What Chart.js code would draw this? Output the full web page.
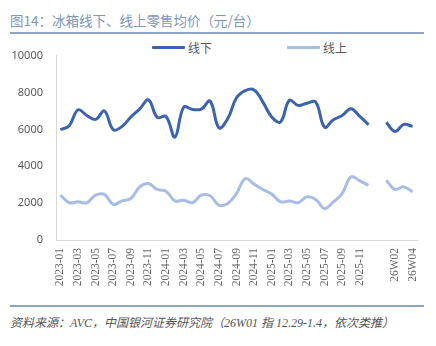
<!DOCTYPE html>
<html>
<head>
<meta charset="utf-8">
<script src="https://cdn.jsdelivr.net/npm/chart.js@4.4.1/dist/chart.umd.min.js"></script>
<style>
  html, body { margin: 0; padding: 0; background: #fff; }
  body { width: 436px; height: 346px; position: relative; overflow: hidden; font-family: "Noto Sans CJK SC", "Noto Sans", sans-serif; }
  #title { position: absolute; left: 10px; top: 10px; font-size: 13.5px; color: #8195bb; white-space: nowrap; }
  .rule { position: absolute; left: 10px; width: 414px; height: 2px; background: #8fa3c8; }
  #legend { position: absolute; top: 38px; left: 0; width: 436px; height: 18px; }
  .item { position: absolute; top: 0; display: flex; align-items: center; font-size: 12px; color: #595959; height: 18px; }
  .item i { display: inline-block; width: 33px; height: 3px; margin-right: 3px; border-radius: 1px; }
  #note { position: absolute; left: 10px; top: 313px; font-size: 12px; color: #555; font-style: italic; white-space: nowrap; font-family: "Liberation Serif", "Noto Sans CJK SC", serif; }
  #wrap { position: absolute; left: 0; top: 36px; width: 436px; height: 262px; }
</style>
</head>
<body>
<div id="title">图14：冰箱线下、线上零售均价（元/台）</div>
<div class="rule" style="top:32px"></div>
<div id="legend"></div>
<div id="wrap"><canvas id="chart" width="436" height="262"></canvas></div>
<div class="rule" style="top:305px"></div>
<div id="note">资料来源：AVC，中国银河证券研究院（26W01 指 12.29-1.4，依次类推）</div>
<script>
// categories: 36 months, one empty slot, then 4 weeks of 2026
const months = [];
for (const y of [2023, 2024, 2025])
  for (let m = 1; m <= 12; m++) months.push(y + "-" + String(m).padStart(2, "0"));
const weeks = ["26W01", "26W02", "26W03", "26W04"];
const labels = [...months, "", ...weeks];

// 线下 (offline) average price, yuan per unit
const offlineMonthly = [
  5980, 6200, 7060, 6750, 6540, 7000, 5980, 6160, 6670, 7100, 7600, 6650,
  6700, 5580, 7200, 7080, 7100, 7530, 6090, 6570, 7710, 8100, 8140, 7480,
  6670, 6400, 7570, 7300, 7420, 7480, 6120, 6520, 6750, 7120, 6700, 6250,
];
const offlineWeekly = [6380, 5890, 6270, 6160];

// 线上 (online) average price
const onlineMonthly = [
  2430, 2020, 2070, 2020, 2430, 2470, 1930, 2120, 2250, 2880, 3060, 2740,
  2650, 2120, 2160, 2020, 2430, 2400, 1890, 1980, 2520, 3330, 3030, 2740,
  2490, 2070, 2120, 2020, 2340, 2200, 1710, 2070, 2520, 3420, 3210, 2970,
];
const onlineWeekly = [3240, 2740, 2880, 2610];

const yTicks = [0, 2000, 4000, 6000, 8000, 10000];

const series = [
  { name: "线下", color: "#3b63b0", data: [...offlineMonthly, null, ...offlineWeekly] },
  { name: "线上", color: "#a8bde6", data: [...onlineMonthly, null, ...onlineWeekly] },
];

// legend (html, positioned like the reference)
const legendX = [152, 287];
const legend = document.getElementById("legend");
series.forEach((s, k) => {
  const el = document.createElement("div");
  el.className = "item";
  el.style.left = legendX[k] + "px";
  el.innerHTML = `<i style="background:${s.color}"></i>${s.name}`;
  legend.appendChild(el);
});

new Chart(document.getElementById("chart"), {
  type: "line",
  data: {
    labels,
    datasets: series.map(s => ({
      label: s.name,
      data: s.data,
      borderColor: s.color,
      backgroundColor: s.color,
      borderWidth: 3,
      pointRadius: 0,
      tension: 0.4,
      spanGaps: false,
    })),
  },
  options: {
    responsive: false,
    animation: false,
    layout: { padding: { top: 19, right: 19, left: 0, bottom: 0 } },
    plugins: { legend: { display: false }, tooltip: { enabled: false } },
    scales: {
      x: {
        offset: true,
        grid: { display: false, drawTicks: false },
        border: { color: "#d9d9d9", width: 1 },
        afterFit: (s) => { s.height = 58; },
        ticks: {
          autoSkip: false,
          minRotation: 90,
          maxRotation: 90,
          padding: 8,
          color: "#666",
          font: { family: "Liberation Serif", size: 11.5 },
          callback: (v, i) => (i % 2 === 0 ? labels[i] : ""),
        },
      },
      y: {
        min: 0,
        max: 10000,
        afterBuildTicks: (s) => { s.ticks = yTicks.map(v => ({ value: v })); },
        afterFit: (s) => { s.width = 56; },
        grid: { display: false, drawTicks: false },
        border: { color: "#d9d9d9", width: 1 },
        ticks: {
          padding: 13,
          color: "#595959",
          font: { family: "Noto Sans", size: 11 },
          callback: (v) => String(v),
        },
      },
    },
  },
});
</script>
</body>
</html>
